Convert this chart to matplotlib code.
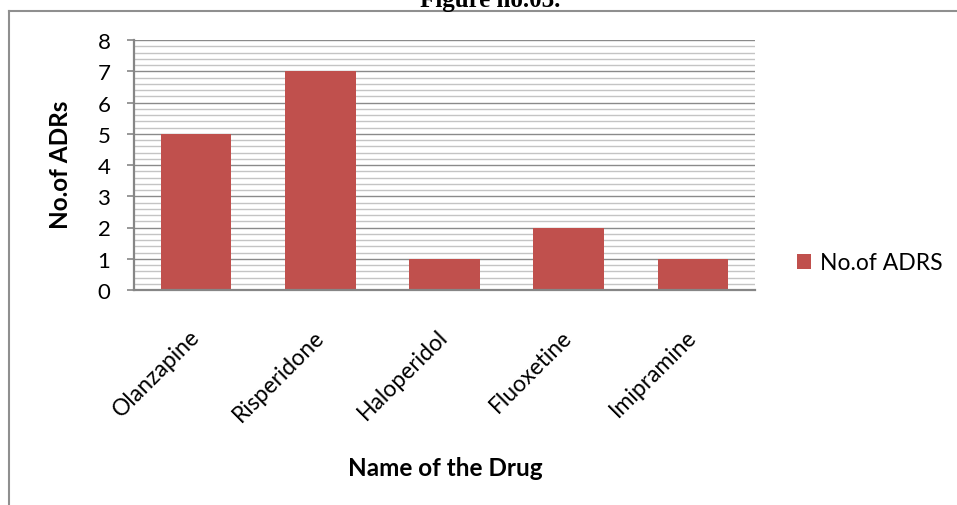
import matplotlib
matplotlib.use("Agg")
import matplotlib.pyplot as plt
from matplotlib.lines import Line2D
from matplotlib.ticker import MultipleLocator

drugs = ["Olanzapine", "Risperidone", "Haloperidol", "Fluoxetine", "Imipramine"]
adrs = [5, 7, 1, 2, 1]
series_name = "No.of ADRS"
y_ticks = [0, 1, 2, 3, 4, 5, 6, 7, 8]

W, H = 957, 506
plt.rcParams['font.family'] = ['Lato', 'DejaVu Sans']
fig = plt.figure(figsize=(W / 100, H / 100), dpi=100)

def fx(px):
    return px / W

def fy(py):
    return 1 - py / H

left, top, right, bottom = 134, 41, 755, 291
ax = fig.add_axes([fx(left), fy(bottom), fx(right - left), (bottom - top) / H])

bar_color = "#C0504D"
x = range(len(drugs))
ax.bar(x, adrs, width=0.57, color=bar_color, zorder=3, label=series_name)

ax.set_xlim(-0.5, len(drugs) - 0.5)
ax.set_ylim(0, 8)
ax.set_yticks(y_ticks)
ax.yaxis.set_minor_locator(MultipleLocator(0.2))
ax.grid(axis='y', which='major', color='#8a8a8a', linewidth=1.0, zorder=0)
ax.grid(axis='y', which='minor', color='#c4c4c4', linewidth=1.0, zorder=0)
ax.set_axisbelow(True)

for s in ['top', 'right']:
    ax.spines[s].set_visible(False)
for s in ['left', 'bottom']:
    ax.spines[s].set_color('#868686')
    ax.spines[s].set_linewidth(1.6)
    ax.spines[s].set_zorder(4)

ax.tick_params(axis='y', which='major', length=5, width=1.2, color='#868686',
               labelsize=16, pad=12)
ax.tick_params(axis='y', which='minor', length=0)
ax.tick_params(axis='x', length=0, pad=31)
ax.set_xticks(list(x))
ax.set_xticklabels(drugs, rotation=45, ha='right', va='center',
                   rotation_mode='anchor', fontsize=16.5)

fig.text(fx(61), fy(165), "No.of ADRs", rotation=90, ha='center', va='center',
         fontsize=17.5, fontweight='bold')
fig.text(fx(445), fy(469), "Name of the Drug", ha='center', va='center',
         fontsize=17.5, fontweight='bold')

ax.legend(loc='center left', bbox_to_anchor=(fx(797), fy(264)),
          bbox_transform=fig.transFigure, frameon=False, fontsize=16.5,
          handlelength=0.62, handleheight=0.62, handletextpad=0.4,
          borderpad=0, borderaxespad=0)

fig.text(fx(490), fy(7), "Figure no.03.", ha='center', va='baseline',
         fontsize=18, fontweight='bold', family=['Liberation Serif'])

fig.add_artist(Line2D([fx(9), fx(9)], [fy(12), 0], color='#8f8f8f', linewidth=1.5,
                      transform=fig.transFigure))
fig.add_artist(Line2D([fx(9), 1], [fy(12), fy(12)], color='#8f8f8f', linewidth=1.5,
                      transform=fig.transFigure))

fig.savefig("out.png", dpi=100)
